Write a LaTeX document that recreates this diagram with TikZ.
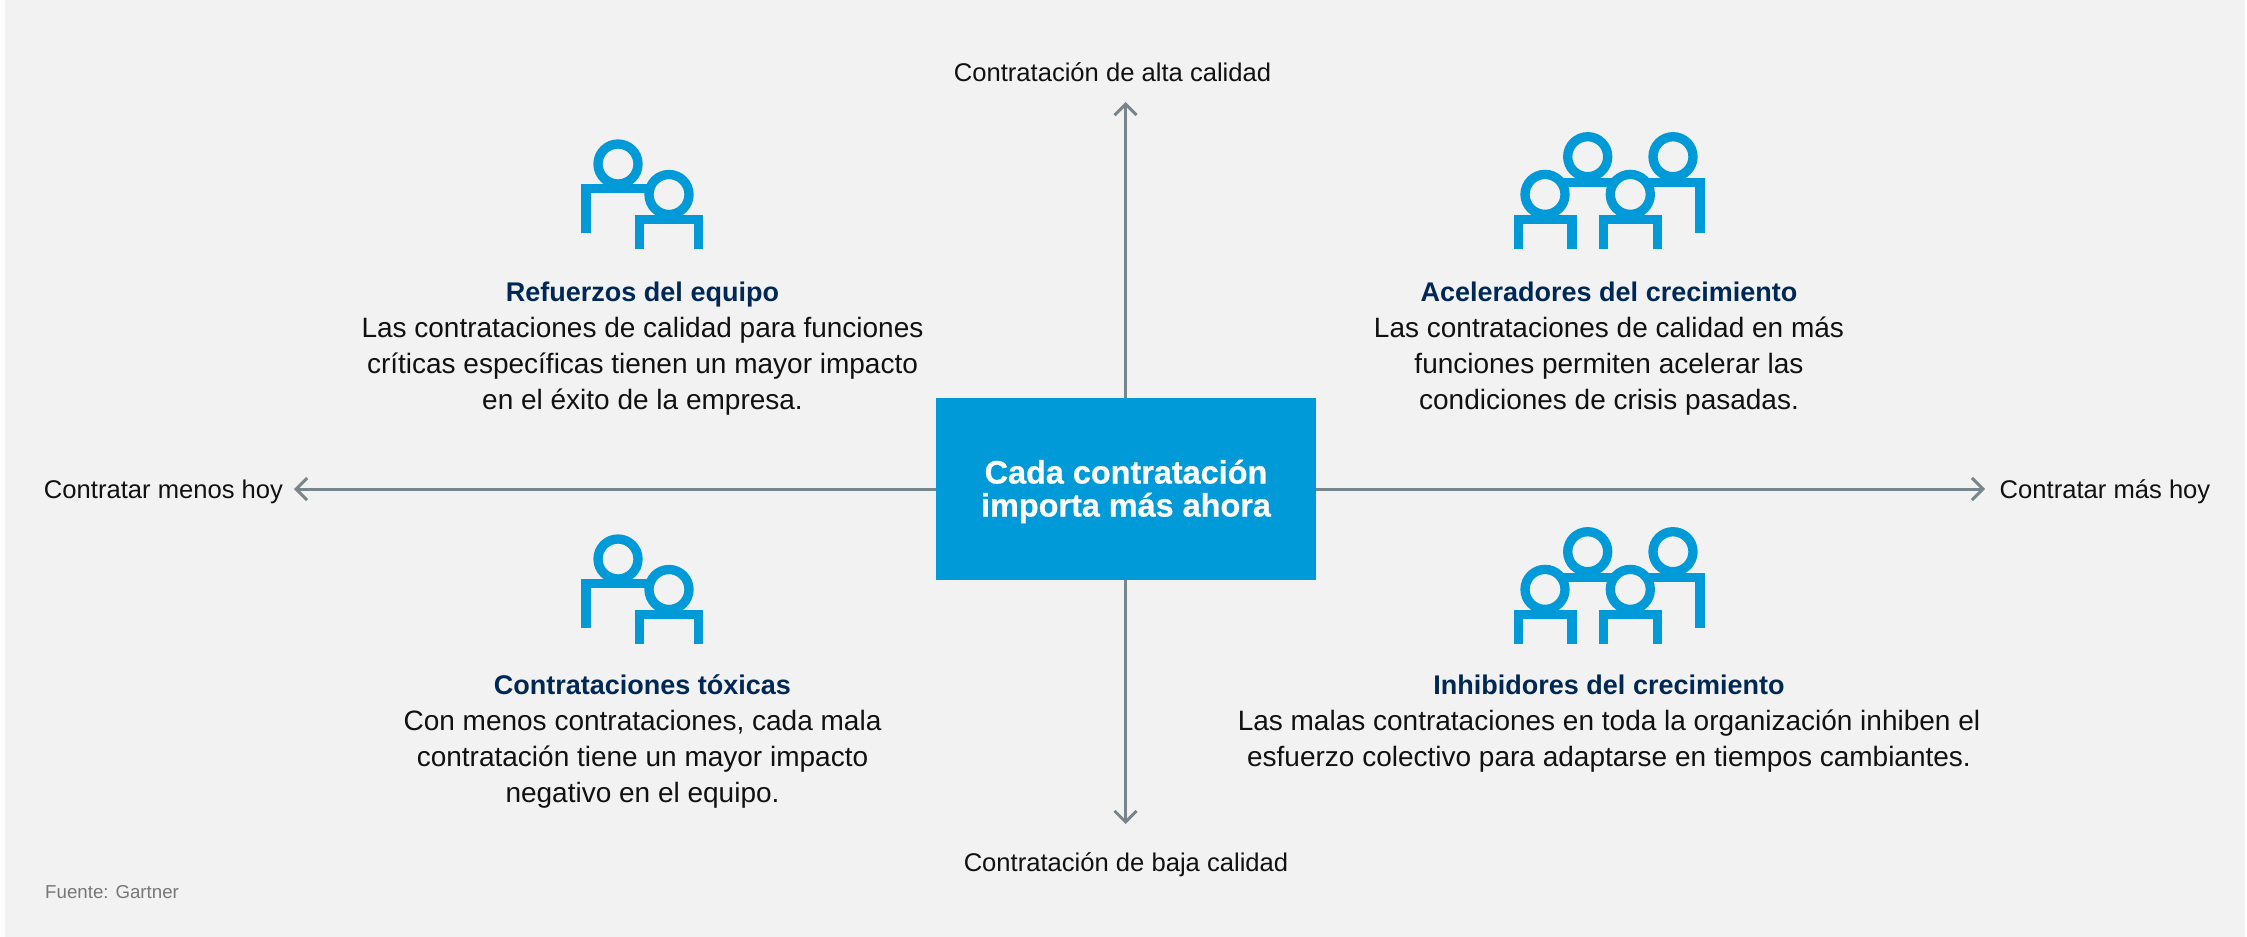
\documentclass[tikz,border=0pt]{standalone}
\usepackage{fontspec}
\setmainfont{Liberation Sans}
\newfontfamily\hubfont[FakeBold=0.7]{Liberation Sans Bold}
\usetikzlibrary{arrows.meta}
\definecolor{bgc}{HTML}{F2F2F2}
\definecolor{bluec}{HTML}{009AD8}
\definecolor{navyc}{HTML}{002856}
\definecolor{inkc}{HTML}{111111}
\definecolor{axisc}{HTML}{76868A}
\definecolor{notec}{HTML}{777777}
\tikzset{
  axisline/.style={draw=axisc,line width=3pt,-{Straight Barb[length=11pt,width=22pt,line width=3pt]}},
  iconline/.style={draw=bluec,line width=9.3pt,line cap=butt,line join=miter},
  iconhead/.style={draw=bluec,fill=bgc,line width=9.3pt},
  axislabel/.style={inner sep=0pt,anchor=base,text=inkc,font=\fontsize{25.6}{30}\selectfont},
  block/.style={inner sep=0pt,anchor=north,align=center,text=inkc,font=\fontsize{28}{36}\selectfont},
  centerbox/.style={fill=bluec,minimum width=380pt,minimum height=182pt,inner sep=0pt},
  centertext/.style={inner sep=0pt,align=center,text=white,font=\fontsize{32.4}{33}\hubfont\selectfont},
  notelabel/.style={inner sep=0pt,anchor=base west,text=notec,font=\fontsize{18.7}{20}\selectfont}
}
\newcommand{\blocktitle}[1]{\rule{0pt}{20pt}\textcolor{navyc}{\fontsize{27}{36}\selectfont\bfseries #1}}
\newcommand{\icontwo}[1]{%
  \begin{scope}[yshift=-#1pt]
    \draw[iconline] (586,233) -- (586,188.7) -- (650,188.7);
    \draw[iconhead] (618,164) circle[radius=20pt];
    \draw[iconhead] (669,194.5) circle[radius=20pt];
    \draw[iconline] (639.7,248.7) -- (639.7,219.7) -- (698.3,219.7) -- (698.3,248.7);
  \end{scope}}
\newcommand{\iconfour}[1]{%
  \begin{scope}[yshift=-#1pt]
    \draw[iconline] (1555,182.4) -- (1700,182.4) -- (1700,233);
    \draw[iconhead] (1587.7,156.7) circle[radius=20pt];
    \draw[iconhead] (1673,156.7) circle[radius=20pt];
    \draw[iconhead] (1545,194.4) circle[radius=20pt];
    \draw[iconhead] (1630.3,194.4) circle[radius=20pt];
    \draw[iconline] (1518.4,248.7) -- (1518.4,219.7) -- (1572,219.7) -- (1572,248.7);
    \draw[iconline] (1603.7,248.7) -- (1603.7,219.7) -- (1657.3,219.7) -- (1657.3,248.7);
  \end{scope}}
\begin{document}
\begin{tikzpicture}[x=1pt,y=-1pt]
  \useasboundingbox (0,0) rectangle (2247,937);
  \fill[white] (0,0) rectangle (2247,937);
  \fill[bgc] (5,0) rectangle (2245,937);

  \coordinate (tipN) at (1125.5,102);
  \coordinate (tipS) at (1125.5,824);
  \coordinate (tipW) at (294,489);
  \coordinate (tipE) at (1985,489);

  \node[centerbox] (hub) at (1126,489) {};
  \node[centertext] (hubtext) at (1126,491.5) {Cada contratación\\importa más ahora};
  \draw[axisline] (hub.north -| tipN) -- (tipN);
  \draw[axisline] (hub.south -| tipS) -- (tipS);
  \draw[axisline] (hub.west) -- (tipW);
  \draw[axisline] (hub.east) -- (tipE);

  \node[axislabel] (lblN) at (1112.5,81) {Contratación de alta calidad};
  \node[axislabel] (lblS) at (1126,871.5) {Contratación de baja calidad};
  \node[axislabel] (lblW) at (163.5,498) {Contratar menos hoy};
  \node[axislabel] (lblE) at (2105,498) {Contratar más hoy};

  \icontwo{0}
  \iconfour{0}
  \icontwo{395}
  \iconfour{395}

  \node[block] (tl) at (642.5,281.7) {\blocktitle{Refuerzos del equipo}\\Las contrataciones de calidad para funciones\\críticas específicas tienen un mayor impacto\\en el éxito de la empresa.};
  \node[block] (tr) at (1609,281.7) {\blocktitle{Aceleradores del crecimiento}\\Las contrataciones de calidad en más\\funciones permiten acelerar las\\condiciones de crisis pasadas.};
  \node[block] (bl) at (642.5,674.7) {\blocktitle{Contrataciones tóxicas}\\Con menos contrataciones, cada mala\\contratación tiene un mayor impacto\\negativo en el equipo.};
  \node[block] (br) at (1609,674.7) {\blocktitle{Inhibidores del crecimiento}\\Las malas contrataciones en toda la organización inhiben el\\esfuerzo colectivo para adaptarse en tiempos cambiantes.};

  \node[notelabel] (src) at (45,898) {Fuente: Gartner};
\end{tikzpicture}
\end{document}
